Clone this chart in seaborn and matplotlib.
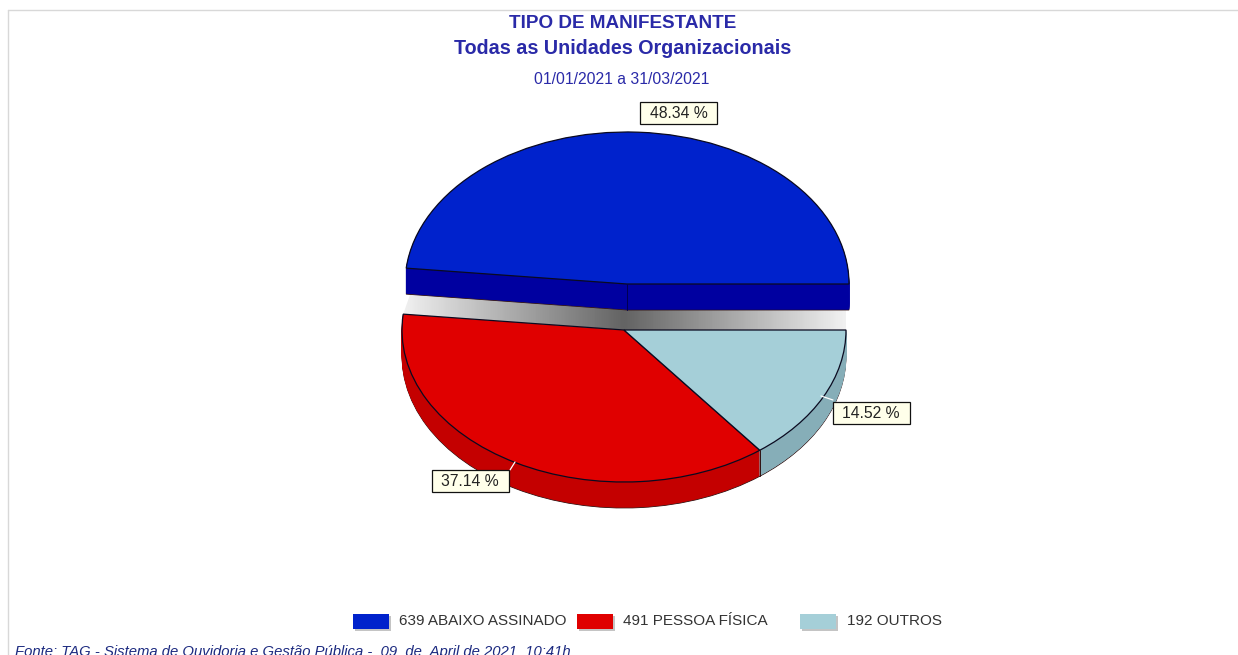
"""
Tipo de manifestante: pseudo 3D pie with the blue slice pulled away.
"""
import numpy as np
import seaborn as sns
import matplotlib.pyplot as plt
from matplotlib.patches import Polygon, Rectangle
from matplotlib.transforms import Affine2D

categories = ["ABAIXO ASSINADO", "PESSOA FÍSICA", "OUTROS"]
values = [639, 491, 192]
colors = ["#0022CC", "#E00000", "#A5CFD8"]
rim_colors = ["#0000A0", "#C40000", "#86AEB8"]
title_lines = ["TIPO DE MANIFESTANTE", "Todas as Unidades Organizacionais"]
period = "01/01/2021 a 31/03/2021"
source = "Fonte: TAG - Sistema de Ouvidoria e Gestão Pública -  09  de  April de 2021  10:41h"

W, H = 1238, 655
RX, RY, DEPTH = 222, 152, 26
# Pixel centres of the slices (blue is pulled up and to the right).
CENTERS = [(627, 284), (624, 330), (624, 330)]
TEXT_BLUE = "#2A2AA8"

sns.set_theme(style="white")
plt.rcParams["font.family"] = ["Liberation Sans", "DejaVu Sans"]


def py(y):
    # The layout was measured from the top of the picture.
    return H - y


def draw_pie(ax, cols, drop, zorder, edge="none", lw=0.6):
    wedges, _ = ax.pie(values, colors=cols, startangle=0, radius=RX,
                       wedgeprops={"edgecolor": edge, "linewidth": lw})
    for w, (cx, cy) in zip(wedges, CENTERS):
        w.set_transform(Affine2D().scale(1, RY / RX).translate(cx, py(cy + drop)) + ax.transData)
        w.set_zorder(zorder)
        if edge == "none":
            w.set_edgecolor(w.get_facecolor())


def rim_point(i, angle):
    a = np.radians(angle)
    cx, cy = CENTERS[i]
    return cx + RX * np.cos(a), py(cy) + RY * np.sin(a)


fig = plt.figure(figsize=(W / 100, H / 100), dpi=100)
ax = fig.add_axes([0, 0, 1, 1])

angles = np.cumsum([0] + values) / sum(values) * 360

# Grey gradient in the gap between the pulled slice and the rest.
left_up = rim_point(0, angles[1])
left_low = rim_point(1, angles[1])
gap = Polygon([(left_up[0] + 4, left_up[1] - DEPTH),
               (CENTERS[0][0], py(CENTERS[0][1] + DEPTH)),
               (CENTERS[0][0] + RX - 3, py(CENTERS[0][1] + DEPTH)),
               (CENTERS[1][0] + RX, py(CENTERS[1][1])),
               (CENTERS[1][0], py(CENTERS[1][1])),
               left_low], closed=True, transform=ax.transData, facecolor="none", edgecolor="none")
ax.add_patch(gap)
ramp = np.abs(np.linspace(-1, 1, 256))[None, :]
img = ax.imshow(ramp, cmap="gray", vmin=-0.7, vmax=1.1, aspect="auto", zorder=1,
                extent=(CENTERS[1][0] - RX, CENTERS[1][0] + RX, py(332), py(292)))
img.set_clip_path(gap)

# Side walls: the same pie stacked downwards in the darker colours.
draw_pie(ax, rim_colors, DEPTH, 2, edge="#301010", lw=0.6)
for d in range(DEPTH - 1, 0, -1):
    draw_pie(ax, rim_colors, d, 3)
draw_pie(ax, colors, 0, 4, edge="#0A0A20", lw=0.9)

# The blue slice has to sit behind the red one where they meet.
for patch in ax.patches:
    if patch.get_zorder() in (2, 3, 4) and patch.get_facecolor()[2] > 0.5 and patch.get_facecolor()[0] < 0.1:
        patch.set_zorder(patch.get_zorder() - 0.5)

# Vertical wall edges.
ax.plot([CENTERS[0][0]] * 2, [py(CENTERS[0][1]), py(CENTERS[0][1] + DEPTH)], color="#000050", lw=0.7, zorder=5)
edge_x, edge_y = rim_point(1, angles[2])
ax.plot([edge_x, edge_x], [edge_y, edge_y - DEPTH], color="#301010", lw=0.7, zorder=5)

# Percent labels with their small white leader ticks.
label_pos = [(678.5, 113), (470, 481), (871, 413)]
leaders = [None, ((510, 470), (515, 462)), ((833, 400), (821, 396))]
for v, (x, y), lead in zip(values, label_pos, leaders):
    if lead:
        ax.plot([lead[0][0], lead[1][0]], [py(lead[0][1]), py(lead[1][1])], color="white", lw=0.9, zorder=6)
    ax.add_patch(Rectangle((x - 38.5, py(y + 11)), 77, 22, facecolor="#FFFFEA", edgecolor="#111111",
                           linewidth=0.9, zorder=7))
    ax.text(x, py(y + 0.5), f"{v / sum(values) * 100:.2f} %", ha="center", va="center", fontsize=11.3,
            color="#222222", zorder=8)

# Titles.
ax.text(623, py(24), title_lines[0], ha="center", va="center", fontsize=13.6, fontweight="bold", color=TEXT_BLUE)
ax.text(623, py(48), title_lines[1], ha="center", va="center", fontsize=14.2, fontweight="bold", color=TEXT_BLUE)
ax.text(622, py(80), period, ha="center", va="center", fontsize=11.3, color=TEXT_BLUE)

# Legend row.
swatch_x = [353, 577, 800]
legend_x = [399, 623, 847]
for x, tx, c, n, cat in zip(swatch_x, legend_x, colors, values, categories):
    ax.add_patch(Rectangle((x + 2, py(631)), 36, 15, facecolor="#C4C4C4", edgecolor="none", zorder=2))
    ax.add_patch(Rectangle((x, py(629)), 36, 15, facecolor=c, edgecolor="none", zorder=3))
    ax.text(tx, py(621), f"{n} {cat}", ha="left", va="center", fontsize=11, color="#333333")

ax.text(15, py(652), source, ha="left", va="center", fontsize=10.7, fontstyle="italic",
        color="#1C2A80")

# Thin frame of the page around the chart.
ax.plot([8, W], [py(10), py(10)], color="#D8D8D8", lw=1)
ax.plot([8, 8], [py(10), py(H)], color="#D8D8D8", lw=1)

ax.set_aspect("auto")
ax.set_xlim(0, W)
ax.set_ylim(0, H)
ax.axis("off")

plt.savefig("out.png", dpi=100)
